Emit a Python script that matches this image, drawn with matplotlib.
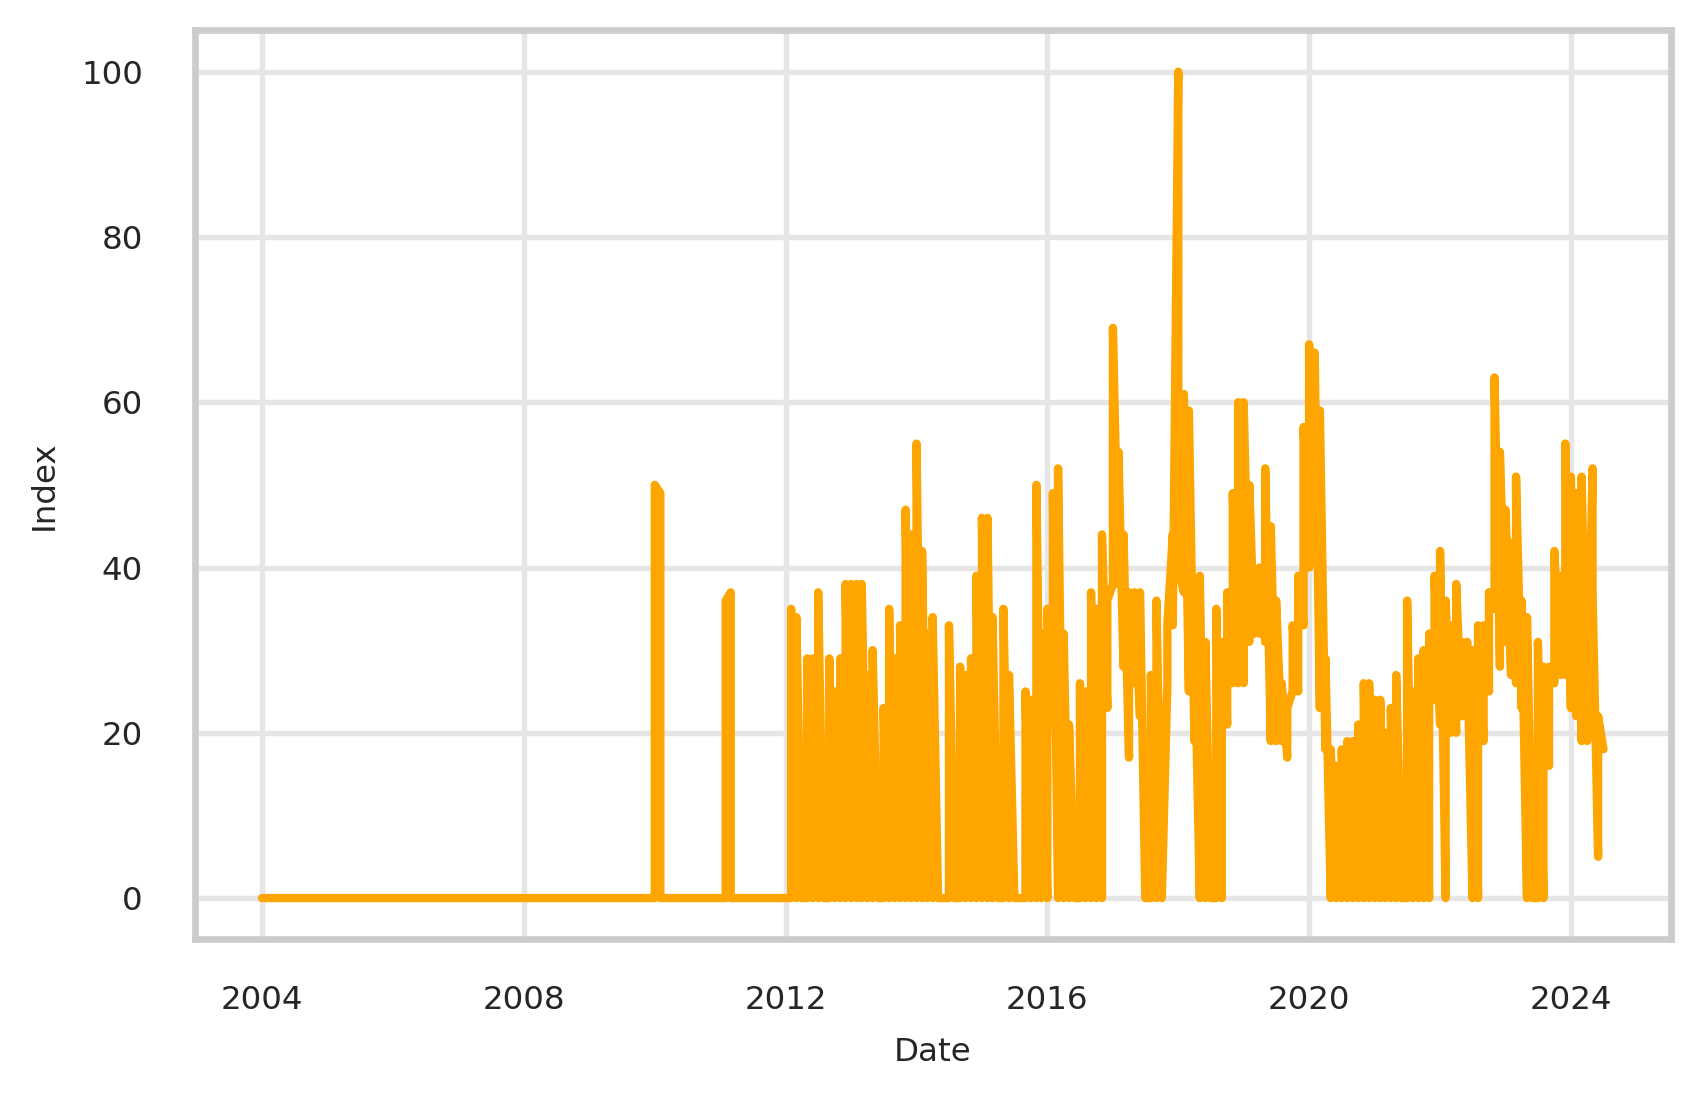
import numpy as np
import pandas as pd
import matplotlib
matplotlib.use("Agg")
import matplotlib.pyplot as plt
import matplotlib.dates as mdates

# Monthly search index, 2004-01 .. 2024-07.
# Each month holds one or more readings (the source has repeated dates).
years_2004_2009 = [0] * 72
y2010 = [(0, 50), (49, 0), 0, 0, 0, 0, 0, 0, 0, 0, 0, 0]
y2011 = [0, (0, 36), (37, 0), 0, 0, 0, 0, 0, 0, 0, 0, 0]
y2012 = [0, (0, 35), (0, 34), 0, (0, 29), (0, 29), (0, 37), 0, (0, 29), (0, 25), (0, 29), (0, 38)]
y2013 = [(0, 38), (0, 38), (0, 38), (0, 27), (0, 30), 0, (0, 23), (0, 35), (0, 29), (0, 33), (0, 47), (0, 44)]
y2014 = [(0, 55), (0, 42), (0, 32), (0, 34), 0, 0, (0, 33), 0, (0, 28), (0, 27), (0, 29), (0, 39)]
y2015 = [(0, 46), (0, 46), (0, 34), 0, (0, 35), (0, 27), 0, 0, (0, 25), (0, 24), (0, 50), (0, 32)]
y2016 = [(0, 35), (21, 49), (0, 52), (0, 32), (0, 21), 0, (0, 26), (0, 25), (0, 37), (0, 35), (0, 44), (23, 36)]
y2017 = [(38, 69), (38, 54), (28, 44), (17, 37), (26, 37), (22, 37), 0, (0, 27), (0, 36), 0, (26, 33), (44, 33)]
y2018 = [(100, 40), (37, 61), (25, 59), (19, 32), (0, 39), (0, 31), 0, (0, 35), (0, 31), (21, 37), (26, 49), (26, 60)]
y2019 = [(26, 60), (31, 50), (32, 39), (32, 40), (31, 52), (19, 45), (19, 36), (19, 26), (17, 23), (25, 33), (25, 39), (33, 57)]
y2020 = [(40, 67), (41, 66), (23, 59), (18, 29), (0, 18), (0, 16), (0, 18), (0, 19), (0, 19), (0, 21), (0, 26), (0, 26)]
y2021 = [(0, 24), (0, 24), (0, 20), (0, 23), (0, 27), 0, (0, 36), (0, 25), (0, 29), (0, 30), (0, 32), (24, 39)]
y2022 = [(21, 42), (0, 36), (20, 33), (20, 38), (22, 31), (22, 31), (0, 30), (0, 33), (19, 33), (25, 37), (35, 63), (28, 54)]
y2023 = [(31, 47), (27, 43), (26, 51), (23, 36), (0, 34), 0, (0, 31), (0, 28), (16, 28), (26, 42), (27, 39), (27, 55)]
y2024 = [(23, 51), (22, 49), (19, 51), 19, (52, 37), (5, 22), 18]

months = (years_2004_2009 + y2010 + y2011 + y2012 + y2013 + y2014 + y2015 + y2016
          + y2017 + y2018 + y2019 + y2020 + y2021 + y2022 + y2023 + y2024)
month_starts = pd.date_range("2004-01-01", periods=len(months), freq="MS")

dates, index = [], []
for d, entry in zip(month_starts, months):
    vals = entry if isinstance(entry, tuple) else (entry,)
    for v in vals:
        dates.append(d)
        index.append(v)

text_col = "#262626"
plt.rcParams["font.family"] = "DejaVu Sans"

fig = plt.figure(figsize=(5.67, 3.68), dpi=300)
ax = fig.add_axes([0.1146, 0.1491, 0.8675, 0.8234])

ax.plot(dates, index, color="orange", linewidth=2.0,
        solid_joinstyle="round", solid_capstyle="round", zorder=3)

ax.set_ylim(-5, 105)
ax.set_yticks([0, 20, 40, 60, 80, 100])
ax.xaxis.set_major_locator(mdates.YearLocator(4))
ax.xaxis.set_major_formatter(mdates.DateFormatter("%Y"))

ax.grid(True, color="#e6e6e6", linewidth=1.3, zorder=0)
ax.set_axisbelow(True)
for s in ax.spines.values():
    s.set_color("#cccccc")
    s.set_linewidth(1.6)

ax.tick_params(axis="both", length=0, labelsize=7.8, labelcolor=text_col)
ax.tick_params(axis="y", pad=12.5)
ax.tick_params(axis="x", pad=11)
ax.set_xlabel("Date", fontsize=7.8, color=text_col, labelpad=5)
ax.set_ylabel("Index", fontsize=7.8, color=text_col, labelpad=5)

fig.savefig("out.png", dpi=300)
